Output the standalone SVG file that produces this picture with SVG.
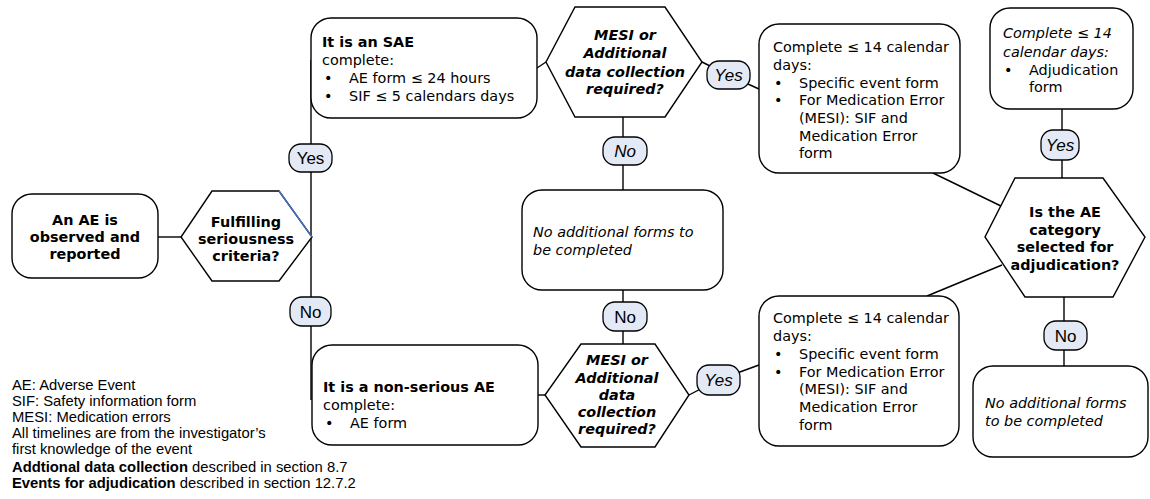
<svg xmlns="http://www.w3.org/2000/svg" width="1150" height="499" viewBox="0 0 1150 499">
<style>
.box{fill:#fff;stroke:#000;stroke-width:1.4}
.hex{fill:#fff;stroke:#000;stroke-width:1.4}
.pill{fill:#e3eaf5;stroke:#000;stroke-width:1.3}
.ln{fill:none;stroke:#000;stroke-width:1.4}
.t{font-family:"DejaVu Sans",Verdana,sans-serif;font-size:14.4px;fill:#000}
.b{font-weight:bold}
.i{font-style:italic}
.c{text-anchor:middle}
.p{font-family:"Liberation Sans",Arial,sans-serif;font-size:17px;fill:#000;text-anchor:middle}
.lg{font-family:"Liberation Sans",Arial,sans-serif;font-size:14.8px;fill:#000}
</style>
<rect width="1150" height="499" fill="#fff"/>
<g id="connectors">
<line class="ln" x1="158" y1="237" x2="181" y2="237"/>
<line class="ln" x1="311" y1="60" x2="311" y2="400"/>
<line class="ln" x1="537" y1="68" x2="546" y2="62"/>
<polyline class="ln" points="702,62 728,75 759,89"/>
<line class="ln" x1="623" y1="117" x2="623" y2="190"/>
<line class="ln" x1="623" y1="290" x2="623" y2="344"/>
<line class="ln" x1="538" y1="395" x2="545" y2="395"/>
<polyline class="ln" points="689,395 718,380 759,365"/>
<line class="ln" x1="933" y1="173" x2="1003" y2="207"/>
<line class="ln" x1="927" y1="296" x2="1002" y2="265"/>
<line class="ln" x1="1062" y1="109" x2="1062" y2="178"/>
<line class="ln" x1="1064" y1="297" x2="1064" y2="366"/>
</g>
<g id="start">
<rect class="box" x="12" y="194" width="146" height="84" rx="20"/>
<text class="t b c"><tspan x="85" y="225">An AE is</tspan><tspan x="85" y="242">observed and</tspan><tspan x="85" y="259">reported</tspan></text>
</g>
<g id="q-serious">
<polygon class="hex" points="212,191 279,191 312,237 279,281 212,281 181,237"/>
<line x1="279" y1="191" x2="312" y2="237" stroke="#4472c4" stroke-width="1.4"/>
<text class="t b c"><tspan x="246" y="227">Fulfilling</tspan><tspan x="246" y="244">seriousness</tspan><tspan x="246" y="261">criteria?</tspan></text>
</g>
<g id="sae">
<rect class="box" x="311" y="18" width="226" height="100" rx="20"/>
<text class="t"><tspan class="b" x="322" y="47">It is an SAE</tspan><tspan x="322" y="65">complete:</tspan><tspan x="324" y="83">•</tspan><tspan x="349" y="83">AE form ≤ 24 hours</tspan><tspan x="324" y="101">•</tspan><tspan x="349" y="101">SIF ≤ 5 calendars days</tspan></text>
</g>
<g id="q-mesi-1">
<polygon class="hex" points="575,7 665,7 702,62 665,117 575,117 546,62"/>
<text class="t b i c"><tspan x="625" y="40">MESI or</tspan><tspan x="625" y="58">Additional</tspan><tspan x="625" y="77">data collection</tspan><tspan x="625" y="94">required?</tspan></text>
</g>
<g id="forms-1">
<rect class="box" x="759" y="24" width="201" height="149" rx="20"/>
<text class="t"><tspan x="773" y="52">Complete ≤ 14 calendar</tspan><tspan x="773" y="70">days:</tspan><tspan x="774" y="88">•</tspan><tspan x="799" y="88">Specific event form</tspan><tspan x="774" y="105">•</tspan><tspan x="799" y="105">For Medication Error</tspan><tspan x="799" y="123">(MESI):  SIF and</tspan><tspan x="799" y="141">Medication Error</tspan><tspan x="799" y="158">form</tspan></text>
</g>
<g id="adjudication-form">
<rect class="box" x="990" y="8" width="143" height="101" rx="20"/>
<text class="t"><tspan class="i" x="1003" y="38">Complete ≤ 14</tspan><tspan class="i" x="1003" y="57">calendar days:</tspan><tspan x="1004" y="75">•</tspan><tspan x="1029" y="75">Adjudication</tspan><tspan x="1029" y="92">form</tspan></text>
</g>
<g id="no-forms-1">
<rect class="box" x="522" y="190" width="201" height="100" rx="20"/>
<text class="t i"><tspan x="533" y="237">No additional forms to</tspan><tspan x="533" y="255">be completed</tspan></text>
</g>
<g id="q-adjudication">
<polygon class="hex" points="1015,178 1103,178 1145,237 1113,297 1025,297 985,237"/>
<text class="t b c"><tspan x="1065" y="217">Is the AE</tspan><tspan x="1065" y="235">category</tspan><tspan x="1065" y="252">selected for</tspan><tspan x="1065" y="270">adjudication?</tspan></text>
</g>
<g id="non-serious">
<rect class="box" x="312" y="345" width="226" height="100" rx="20"/>
<text class="t"><tspan class="b" x="323" y="392">It is a non-serious AE</tspan><tspan x="323" y="410">complete:</tspan><tspan x="325" y="428">•</tspan><tspan x="350" y="428">AE form</tspan></text>
</g>
<g id="q-mesi-2">
<polygon class="hex" points="581,344 655,344 689,395 655,447 581,447 545,395"/>
<text class="t b i c"><tspan x="617" y="365">MESI or</tspan><tspan x="617" y="383">Additional</tspan><tspan x="617" y="400">data</tspan><tspan x="617" y="417">collection</tspan><tspan x="617" y="434">required?</tspan></text>
</g>
<g id="forms-2">
<rect class="box" x="759" y="296" width="200" height="150" rx="20"/>
<text class="t"><tspan x="773" y="323">Complete ≤ 14 calendar</tspan><tspan x="773" y="341">days:</tspan><tspan x="774" y="359">•</tspan><tspan x="799" y="359">Specific event form</tspan><tspan x="774" y="377">•</tspan><tspan x="799" y="377">For Medication Error</tspan><tspan x="799" y="394">(MESI):  SIF and</tspan><tspan x="799" y="412">Medication Error</tspan><tspan x="799" y="430">form</tspan></text>
</g>
<g id="no-forms-2">
<rect class="box" x="973" y="366" width="175" height="91" rx="20"/>
<text class="t i"><tspan x="985" y="408">No additional forms</tspan><tspan x="985" y="426">to be completed</tspan></text>
</g>
<g id="labels">
<g id="yes-serious"><rect class="pill" x="289" y="144" width="43" height="28" rx="12"/><text class="p" x="310.5" y="164">Yes</text></g>
<g id="no-serious"><rect class="pill" x="290" y="297" width="41" height="29" rx="12"/><text class="p" x="310.5" y="318">No</text></g>
<g id="yes-mesi-1"><rect class="pill" x="707" y="61" width="43" height="28" rx="12"/><text class="p i" x="728.5" y="81">Yes</text></g>
<g id="no-mesi-1"><rect class="pill" x="603" y="137" width="44" height="28" rx="12"/><text class="p i" x="625" y="157">No</text></g>
<g id="no-mid"><rect class="pill" x="603" y="302" width="44" height="29" rx="12"/><text class="p" x="625" y="323">No</text></g>
<g id="yes-mesi-2"><rect class="pill" x="697" y="365" width="43" height="30" rx="12"/><text class="p i" x="718.5" y="386">Yes</text></g>
<g id="yes-adj"><rect class="pill" x="1041" y="130" width="38" height="30" rx="12"/><text class="p i" x="1060" y="151">Yes</text></g>
<g id="no-adj"><rect class="pill" x="1044" y="321" width="43" height="29" rx="12"/><text class="p" x="1065.5" y="342">No</text></g>
</g>
<g id="legend">
<text class="lg"><tspan x="12" y="390">AE: Adverse Event</tspan><tspan x="12" y="406">SIF: Safety information form</tspan><tspan x="12" y="422">MESI: Medication errors</tspan><tspan x="12" y="438">All timelines are from the investigator’s</tspan><tspan x="12" y="454">first knowledge of the event</tspan><tspan x="12" y="472"><tspan font-weight="bold">Addtional data collection</tspan> described in section 8.7</tspan><tspan x="12" y="488"><tspan font-weight="bold">Events for adjudication</tspan> described in section 12.7.2</tspan></text>
</g>
</svg>
